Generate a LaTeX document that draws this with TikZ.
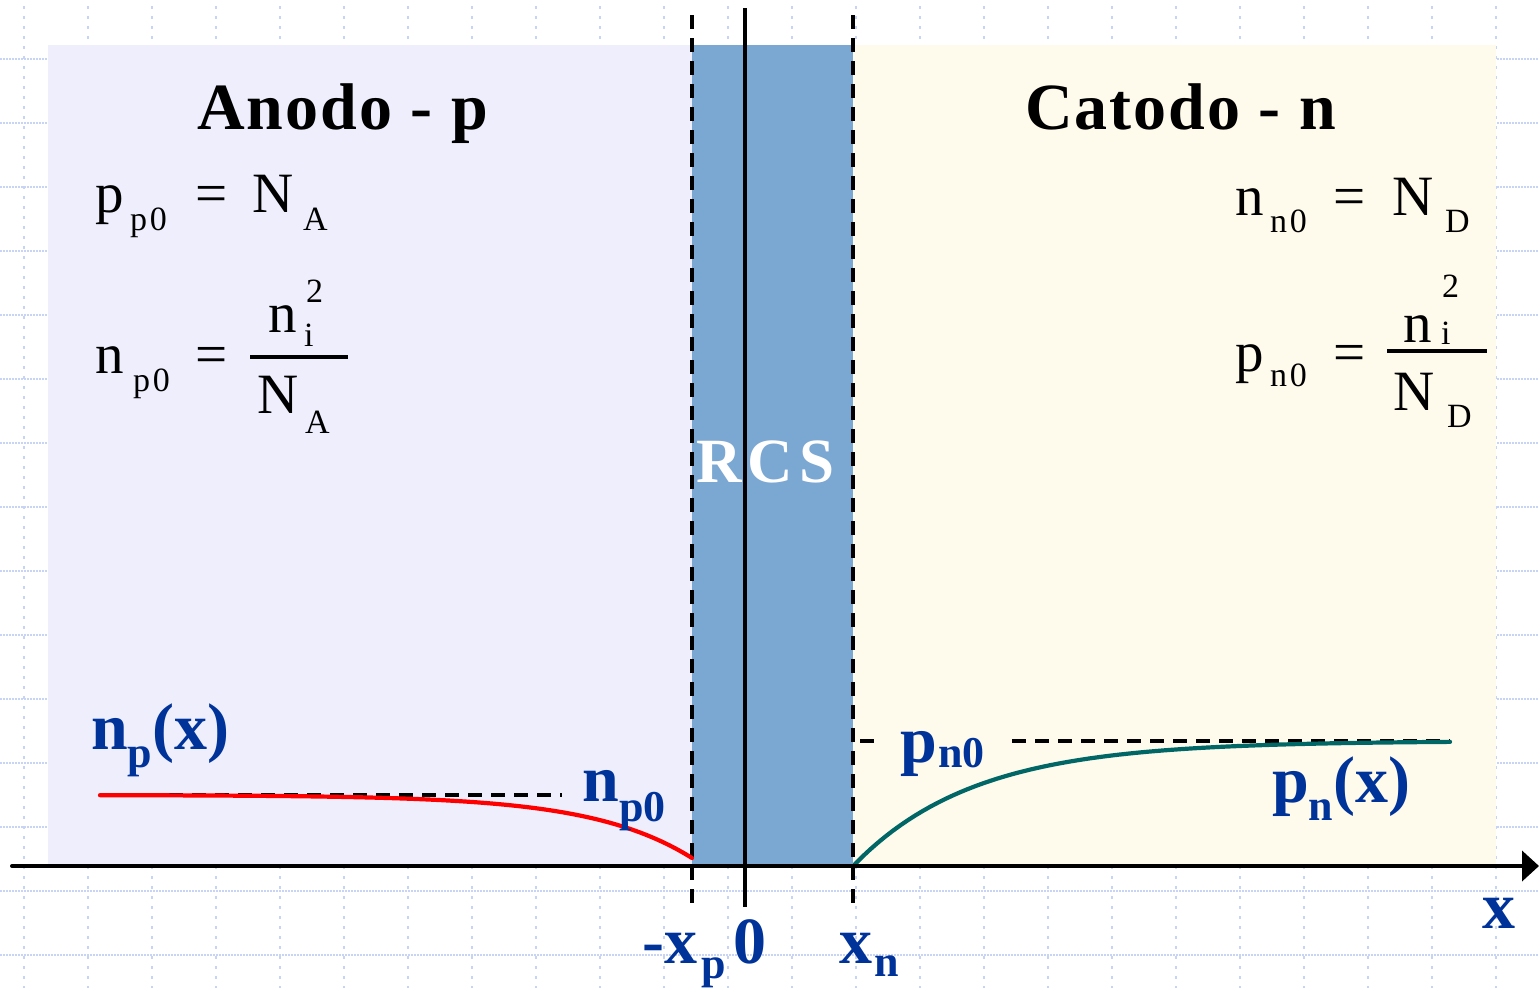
\documentclass[tikz,border=0pt]{standalone}
\usepackage{fontspec}
\setmainfont{Liberation Serif}
\newfontfamily\titlefont[LetterSpace=3]{Liberation Serif}
\newfontfamily\rcsfont[LetterSpace=10]{Liberation Serif}
\newfontfamily\subfont[LetterSpace=8]{Liberation Serif}
\usetikzlibrary{arrows.meta}
\definecolor{gridc}{RGB}{200,212,245}
\definecolor{lav}{RGB}{238,238,252}
\definecolor{cream}{RGB}{255,251,236}
\definecolor{rcsblue}{RGB}{123,167,211}
\definecolor{lbl}{RGB}{0,51,153}
\definecolor{tealc}{RGB}{0,102,102}
\begin{document}
\begin{tikzpicture}[x=1pt,y=-1pt,
  hgrid/.style={gridc,line width=1.2pt,dash pattern=on 1.5pt off 1.5pt},
  vgrid/.style={gridc,line width=1.5pt,dash pattern=on 2.5pt off 7.5pt},
  dashline/.style={black,line width=3.8pt,dash pattern=on 14pt off 9pt},
  solidline/.style={black,line width=4pt},
  fm/.style={font=\fontsize{57}{57}\selectfont,inner sep=0pt,anchor=base west},
  fs/.style={font=\subfont\fontsize{34}{34}\selectfont,inner sep=0pt,anchor=base west},
  title/.style={font=\titlefont\bfseries\fontsize{66}{66}\selectfont,inner sep=0pt,anchor=base west},
  bl/.style={text=lbl,font=\bfseries\fontsize{66}{66}\selectfont,inner sep=0pt,anchor=base west},
  bs/.style={text=lbl,font=\bfseries\fontsize{44}{44}\selectfont,inner sep=0pt,anchor=base west},
  curve/.style={line width=4.2pt,line cap=round}]
\useasboundingbox (0,0) rectangle (1539,988);
\fill[white] (0,0) rectangle (1539,988);
% grid
\foreach \yy in {59,123,...,955} \draw[hgrid] (0,\yy) -- (1539,\yy);
\foreach \xx in {24,88,...,1500} \draw[vgrid] (\xx,6) -- (\xx,988);
% regions
\fill[lav] (48,45) rectangle (692,866);
\fill[rcsblue] (692,45) rectangle (853,866);
\fill[cream] (853,45) rectangle (1496,866);
% RCS label
\node[text=white,font=\rcsfont\bfseries\fontsize{63}{63}\selectfont,inner sep=0pt,anchor=base west] (rcs) at (696,482) {RCS};
% vertical lines
\coordinate (xpT) at (692,15); \coordinate (xpB) at (692,910);
\coordinate (xnT) at (853,15); \coordinate (xnB) at (853,910);
\coordinate (zT) at (745,8);  \coordinate (zB) at (745,907);
\draw[dashline] (xpT) -- (xpB);
\draw[dashline] (xnT) -- (xnB);
\draw[solidline] (zT) -- (zB);
% horizontal reference levels
\coordinate (npA) at (100,795); \coordinate (npB) at (562,795);
\coordinate (pnA) at (860,741); \coordinate (pnA2) at (874,741);
\coordinate (pnC) at (1012,741); \coordinate (pnB) at (1450,741);
\draw[dashline] (npA) -- (npB);
\draw[black,line width=3.8pt] (pnA) -- (pnA2);
\draw[dashline] (pnC) -- (pnB);
% curves
\draw[curve,red] plot[domain=100:692,samples=80] (\x,{795+63*exp((\x-692)/100)});
\draw[curve,tealc] plot[domain=855:1450,samples=80] (\x,{741+123*exp(-(\x-855)/120)});
% axis
\coordinate (ax0) at (12,866); \coordinate (ax1) at (1539,866);
\draw[solidline,line cap=round,-{Triangle[length=17pt,width=30pt]}] (ax0) -- (ax1);
% titles
\node[title] (anodo) at (197,129) {Anodo - p};
\node[title] (catodo) at (1025,129) {Catodo - n};
% left formulas
\node[fm] (l1a) at (95,212) {p};
\node[fs] (l1b) at (130,230) {p0};
\node[fm] (l1c) at (195,212) {=};
\node[fm] (l1d) at (252,212) {N};
\node[fs] (l1e) at (303,230) {A};
\node[fm] (l2a) at (95,373) {n};
\node[fs] (l2b) at (133,391) {p0};
\node[fm] (l2c) at (195,373) {=};
\coordinate (lbar0) at (250,357); \coordinate (lbar1) at (348,357);
\draw[line width=3.5pt] (lbar0) -- (lbar1);
\node[fm] (l2d) at (268,332) {n};
\node[fs] (l2e) at (304,346) {i};
\node[fs] (l2f) at (306,302) {2};
\node[fm] (l2g) at (257,413) {N};
\node[fs] (l2h) at (305,433) {A};
% right formulas
\node[fm] (r1a) at (1235,215) {n};
\node[fs] (r1b) at (1270,232) {n0};
\node[fm] (r1c) at (1333,215) {=};
\node[fm] (r1d) at (1392,215) {N};
\node[fs] (r1e) at (1445,232) {D};
\node[fm] (r2a) at (1235,371) {p};
\node[fs] (r2b) at (1270,386) {n0};
\node[fm] (r2c) at (1333,371) {=};
\coordinate (rbar0) at (1387,351); \coordinate (rbar1) at (1487,351);
\draw[line width=3.5pt] (rbar0) -- (rbar1);
\node[fm] (r2d) at (1403,342) {n};
\node[fs] (r2e) at (1441,344) {i};
\node[fs] (r2f) at (1442,297) {2};
\node[fm] (r2g) at (1393,410) {N};
\node[fs] (r2h) at (1447,427) {D};
% blue labels
\node[bl] (npx) at (91,749) {n\raisebox{-18pt}{\fontsize{44}{44}\selectfont p}(x)};
\node[bl] (np0) at (582,801) {n};
\node[bs] (np0s) at (619,821) {p0};
\node[bl] (pn0) at (900,762) {p};
\node[bs] (pn0s) at (938,767) {n0};
\node[bl] (pnx) at (1272,802) {p\raisebox{-18pt}{\fontsize{44}{44}\selectfont n}(x)};
\node[bl] (xlab) at (1482,928) {x};
\node[bl] (mxp) at (642,963) {-x};
\node[bs] (mxps) at (701,978) {p};
\node[bl] (zero) at (733,963) {0};
\node[bl] (xn) at (839,963) {x};
\node[bs] (xns) at (874,976) {n};
\end{tikzpicture}
\end{document}
